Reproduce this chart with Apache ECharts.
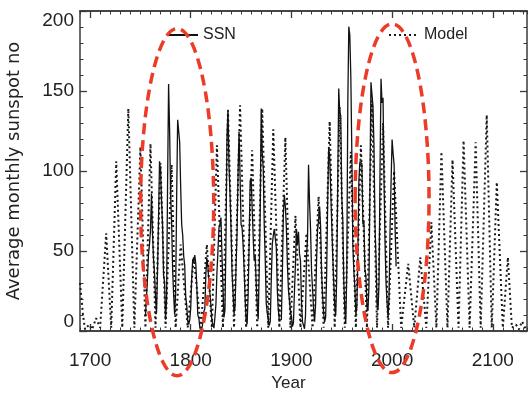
<!DOCTYPE html>
<html><head><meta charset="utf-8">
<script src="https://cdn.jsdelivr.net/npm/echarts@6/dist/echarts.min.js"></script>
<style>html,body{margin:0;padding:0;background:#fff}#c{width:530px;height:393px}</style>
</head><body><div id="c"></div>
<script>
// Observed sunspot number (yearly mean), first year and values
const ssnStartYear = 1755;
const ssnValues = [
9.6,10.2,32.4,47.6,54.0,62.9,85.9,61.2,45.1,36.4,20.9,11.4,37.8,69.8,106.1,100.8,81.6,66.5,34.8,30.6,
7.0,19.8,92.5,154.4,125.9,84.8,68.1,38.5,22.8,10.2,24.1,82.9,132.0,130.9,118.1,89.9,66.6,60.0,46.9,41.0,
21.3,16.0,6.4,4.1,6.8,14.5,34.0,45.0,43.1,47.5,42.2,28.1,10.1,8.1,2.5,0.0,1.4,5.0,12.2,13.9,
35.4,45.8,41.0,30.1,23.9,15.6,6.6,4.0,1.8,8.5,16.6,36.3,49.6,64.2,67.0,70.9,47.8,27.5,8.5,13.2,
56.9,121.5,138.3,103.2,85.7,64.6,36.7,24.2,10.7,15.0,40.1,61.5,98.5,124.7,96.3,66.6,64.5,54.1,39.0,20.6,
6.7,4.3,22.7,54.8,93.8,95.8,77.2,59.1,44.0,47.0,30.5,16.3,7.3,37.6,74.0,139.0,111.2,101.6,66.2,44.7,
17.0,11.3,12.4,3.4,6.0,32.3,54.3,59.7,63.7,63.5,52.2,25.4,13.1,6.8,6.3,7.1,35.6,73.0,85.1,78.0,
64.0,41.8,26.2,26.7,12.1,9.5,2.7,5.0,24.4,42.0,63.5,53.8,62.0,48.5,43.9,18.6,5.7,3.6,1.4,9.6,
47.4,57.1,103.9,80.6,63.6,37.6,26.1,14.2,5.8,16.7,44.3,63.9,69.0,77.8,64.9,35.7,21.2,11.1,5.7,8.7,
36.1,79.7,114.4,109.6,88.8,67.8,47.5,30.6,16.3,9.6,33.2,92.6,151.6,136.3,134.7,83.9,69.4,31.5,13.9,4.4,
38.0,141.7,190.2,184.8,159.0,112.3,53.9,37.6,27.9,10.2,15.1,47.0,93.8,105.9,105.5,104.5,66.6,68.9,38.0,34.5,
15.5,12.6,27.5,92.5,155.4,154.6,140.4,115.9,66.6,45.9,17.9,13.4,29.4,100.2,157.6,142.6,145.7,94.3,54.6,29.9,
17.5,8.6,21.5,64.3,93.3,119.6,111.0,104.0,63.7,40.4
];
// Model curve: turning points (years and values)
const modelYears = [
1690,1693,1695,1699,1702,1706,1710,1716,1721,1726,1732,1738,1744,1750,1755,1760,1765,1770,1775,1781,
1785,1790,1797,1803,1810,1816,1821,1826,1832,1837,1843,1849,1855,1861,1866,1871,1877,1882,1888,1894,
1899,1904,1909,1915,1921,1927,1932,1938,1943,1948,1953,1959,1964,1969,1975,1980,1985,1991,1996,2002,
2009,2016,2022,2028,2034,2039,2044,2049,2055,2060,2066,2071,2077,2083,2088,2094,2099,2104,2110,2115,
2119,2123,2126,2129,2133
];
const modelValues = [
30,10,1,4,1,8,2,61,2,106,2,139,2,115,2,117,2,105,2,104,
2,54,2,46,2,54,2,116,2,138,2,141,2,113,2,139,2,126,2,121,
2,72,2,61,2,84,2,131,2,140,2,112,2,116,2,144,2,130,2,100,
2,42,2,46,2,68,2,112,2,107,2,119,2,118,2,135,2,93,2,46,
2,4,1,6,1
];
const xTickLabels = [1700, 1800, 1900, 2000, 2100];
const yTickLabels = [0, 50, 100, 150, 200];
const seriesNames = ['SSN', 'Model'];
const axisTitles = {x: 'Year', y: 'Average monthly sunspot no'};

const ssnData = ssnValues.map((v, i) => [ssnStartYear + i, v]);
const modelData = modelYears.map((y, i) => [y, modelValues[i]]);

const annotations = [
  {center: [1786.5, 80.5], halfYears: 36.3, halfValue: 108.5},
  {center: [2000.0, 83.0], halfYears: 36.7, halfValue: 109.0}
];

const chart = echarts.init(document.getElementById('c'), null, {renderer: 'canvas'});
const axisCol = '#3a3a3a';
const font = 'Liberation Sans, Arial, sans-serif';
function xAxisDef(pos, major, showLabel) {
  return {
    type: 'value', position: pos, min: 1690, max: 2134, interval: 10,
    axisLine: {show: true, onZero: false, lineStyle: {color: axisCol, width: 1.5}},
    axisTick: major ? {show: true, inside: true, length: 7, customValues: xTickLabels, lineStyle: {color: axisCol, width: 1.3}}
                    : {show: true, inside: true, length: 3.5, lineStyle: {color: axisCol, width: 1}},
    axisLabel: showLabel ? {show: true, customValues: xTickLabels, margin: 20, fontSize: 19, color: '#222', fontFamily: font,
                            formatter: v => String(v)}
                         : {show: false},
    splitLine: {show: false},
    name: showLabel ? axisTitles.x : '', nameLocation: 'middle', nameGap: 44,
    nameTextStyle: {fontSize: 17, color: '#222', fontFamily: font, padding: [0, 30, 0, 0]}
  };
}
function yAxisDef(pos, showLabel) {
  return {
    type: 'value', position: pos, min: 0, max: 200, interval: 50,
    axisLine: {show: true, onZero: false, lineStyle: {color: axisCol, width: 1.5}},
    axisTick: {show: true, inside: true, length: 7, lineStyle: {color: axisCol, width: 1.3}},
    minorTick: {show: true, splitNumber: 5, length: 3.5, lineStyle: {color: axisCol, width: 1}},
    axisLabel: showLabel ? {show: true, margin: 6, fontSize: 19, color: '#222', fontFamily: font,
                            formatter: v => (yTickLabels.indexOf(v) >= 0 ? String(v) : ''),
                            verticalAlignMinLabel: 'bottom', verticalAlignMaxLabel: 'top'}
                         : {show: false},
    splitLine: {show: false},
    name: showLabel ? axisTitles.y : '', nameLocation: 'middle', nameGap: 57,
    nameTextStyle: {fontSize: 18, color: '#222', fontFamily: 'DejaVu Sans, sans-serif'}
  };
}

const legendCommon = {itemWidth: 30, itemHeight: 14, itemGap: 0, top: 27, padding: 0,
  itemStyle: {opacity: 0, borderWidth: 0},
  textStyle: {fontSize: 16, color: '#222', fontFamily: font}};

chart.setOption({
  animation: false,
  backgroundColor: '#fff',
  color: ['#1a1a1a', '#111'],
  grid: {left: 80, right: 3, top: 11, bottom: 62, containLabel: false, outerBoundsMode: 'none'},
  xAxis: [xAxisDef('bottom', true, true), xAxisDef('bottom', false, false), xAxisDef('top', true, false), xAxisDef('top', false, false)],
  yAxis: [yAxisDef('left', true), yAxisDef('right', false)],
  legend: [
    Object.assign({data: [seriesNames[0]], left: 167}, legendCommon),
    Object.assign({data: [seriesNames[1]], left: 388}, legendCommon)
  ],
  series: [
    {name: seriesNames[1], type: 'line', data: modelData, xAxisIndex: 0, yAxisIndex: 0,
     symbol: 'none', itemStyle: {color: '#1a1a1a'},
     lineStyle: {color: '#1a1a1a', width: 2, type: [2, 3]}, z: 2},
    {name: seriesNames[0], type: 'line', data: ssnData, xAxisIndex: 0, yAxisIndex: 0,
     symbol: 'none', itemStyle: {color: '#111'},
     lineStyle: {color: '#111', width: 1.3, type: 'solid'}, z: 3}
  ]
});

const ellipses = annotations.map(a => {
  const c = chart.convertToPixel({xAxisIndex: 0, yAxisIndex: 0}, a.center);
  const e = chart.convertToPixel({xAxisIndex: 0, yAxisIndex: 0}, [a.center[0] + a.halfYears, a.center[1] + a.halfValue]);
  return {
    type: 'ellipse', z: 100,
    shape: {cx: c[0], cy: c[1], rx: Math.abs(e[0] - c[0]), ry: Math.abs(c[1] - e[1])},
    style: {fill: null, stroke: '#ec3b26', lineWidth: 3.5, lineDash: [11, 6]}
  };
});
chart.setOption({graphic: ellipses});
</script>
</body></html>
